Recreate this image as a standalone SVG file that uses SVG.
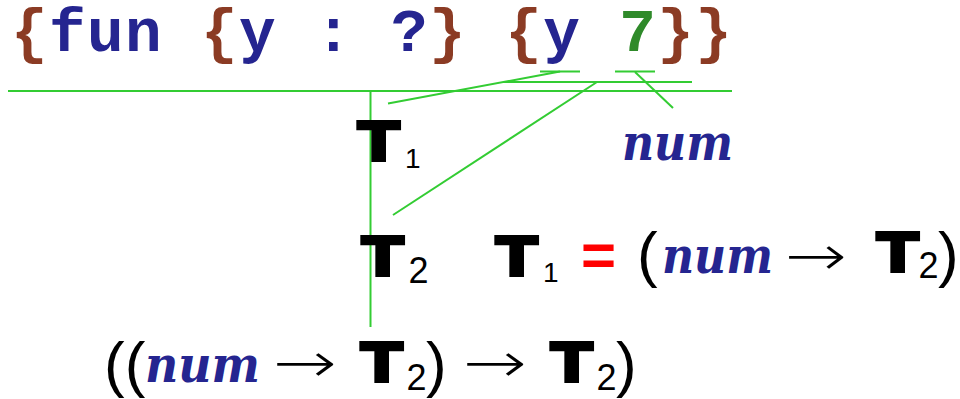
<svg xmlns="http://www.w3.org/2000/svg" width="960" height="399" viewBox="0 0 960 399">
<style>
.code{font-family:"Liberation Mono","Courier New",monospace;font-weight:bold;font-size:61px;letter-spacing:1.4px;white-space:pre}
.br{fill:#8B3B24}.bl{fill:#252590}.gr{fill:#2F8A2A}
.T{font-family:"Liberation Sans",Arial,sans-serif;font-weight:bold;font-size:55px;fill:#000;stroke:#000;stroke-width:4}
.sub{font-family:"Liberation Sans",Arial,sans-serif;font-size:36px;fill:#000}
.sub1{font-family:"Liberation Sans",Arial,sans-serif;font-size:28px;fill:#000}
.par{font-family:"Liberation Sans",Arial,sans-serif;font-size:62px;fill:#000}
.arr{font-family:"DejaVu Sans",sans-serif;font-weight:200;font-size:56px;fill:#000}
.num{font-family:"DejaVu Serif",serif;font-weight:bold;font-style:italic;font-size:50px;fill:#252590}
.eq{font-family:"Liberation Sans",Arial,sans-serif;font-weight:bold;font-size:60px;fill:#FF0000}
.ln{stroke:#33CC33;stroke-width:2;fill:none}
</style>
<g id="expr">
<text class="code" x="11" y="51"><tspan class="br">{</tspan><tspan class="bl">fun </tspan><tspan class="br">{</tspan><tspan class="bl">y : ?</tspan><tspan class="br">}</tspan><tspan class="bl"> </tspan><tspan class="br">{</tspan><tspan class="bl">y </tspan><tspan class="gr">7</tspan><tspan class="br">}}</tspan></text>
</g>
<g id="connectors">
<line class="ln" x1="540" y1="71.5" x2="580" y2="71.5"/>
<line class="ln" x1="615" y1="71.5" x2="655" y2="71.5"/>
<line class="ln" x1="8" y1="91" x2="732" y2="91"/>
<line class="ln" x1="503" y1="82" x2="692" y2="82"/>
<line class="ln" x1="370.5" y1="91" x2="370.5" y2="327"/>
<line class="ln" x1="388" y1="103.5" x2="560" y2="71.5"/>
<line class="ln" x1="393" y1="215" x2="597" y2="82"/>
<line class="ln" x1="635" y1="72" x2="673" y2="108"/>
</g>
<g id="t1">
<text class="T" transform="translate(358,160) scale(1.23,1)">T</text>
<text class="sub1" x="405" y="168">1</text>
</g>
<g id="num">
<text class="num" x="622" y="160" textLength="111" lengthAdjust="spacingAndGlyphs">num</text>
</g>
<g id="t2">
<text class="T" transform="translate(362,275) scale(1.23,1)">T</text>
<text class="sub" x="408.5" y="283">2</text>
</g>
<g id="equation">
<text class="T" transform="translate(496,275) scale(1.23,1)">T</text>
<text class="sub1" x="543" y="282">1</text>
<text class="eq" x="581" y="275">=</text>
<text class="par" x="637" y="275">(</text>
<text class="num" x="662" y="273" textLength="111" lengthAdjust="spacingAndGlyphs">num</text>
<text class="arr" x="785" y="275" textLength="62" lengthAdjust="spacingAndGlyphs">→</text>
<text class="T" transform="translate(877,271) scale(1.23,1)">T</text>
<text class="sub" x="918.5" y="278">2</text>
<text class="par" x="938" y="275">)</text>
</g>
<g id="result">
<text class="par" x="104" y="385">((</text>
<text class="num" x="145" y="382" textLength="115" lengthAdjust="spacingAndGlyphs">num</text>
<text class="arr" x="273" y="382" textLength="64" lengthAdjust="spacingAndGlyphs">→</text>
<text class="T" transform="translate(361,381) scale(1.23,1)">T</text>
<text class="sub" x="406.5" y="390">2</text>
<text class="par" x="426" y="385">)</text>
<text class="arr" x="463" y="382" textLength="64" lengthAdjust="spacingAndGlyphs">→</text>
<text class="T" transform="translate(551,381) scale(1.23,1)">T</text>
<text class="sub" x="596.5" y="390">2</text>
<text class="par" x="616" y="385">)</text>
</g>
</svg>
